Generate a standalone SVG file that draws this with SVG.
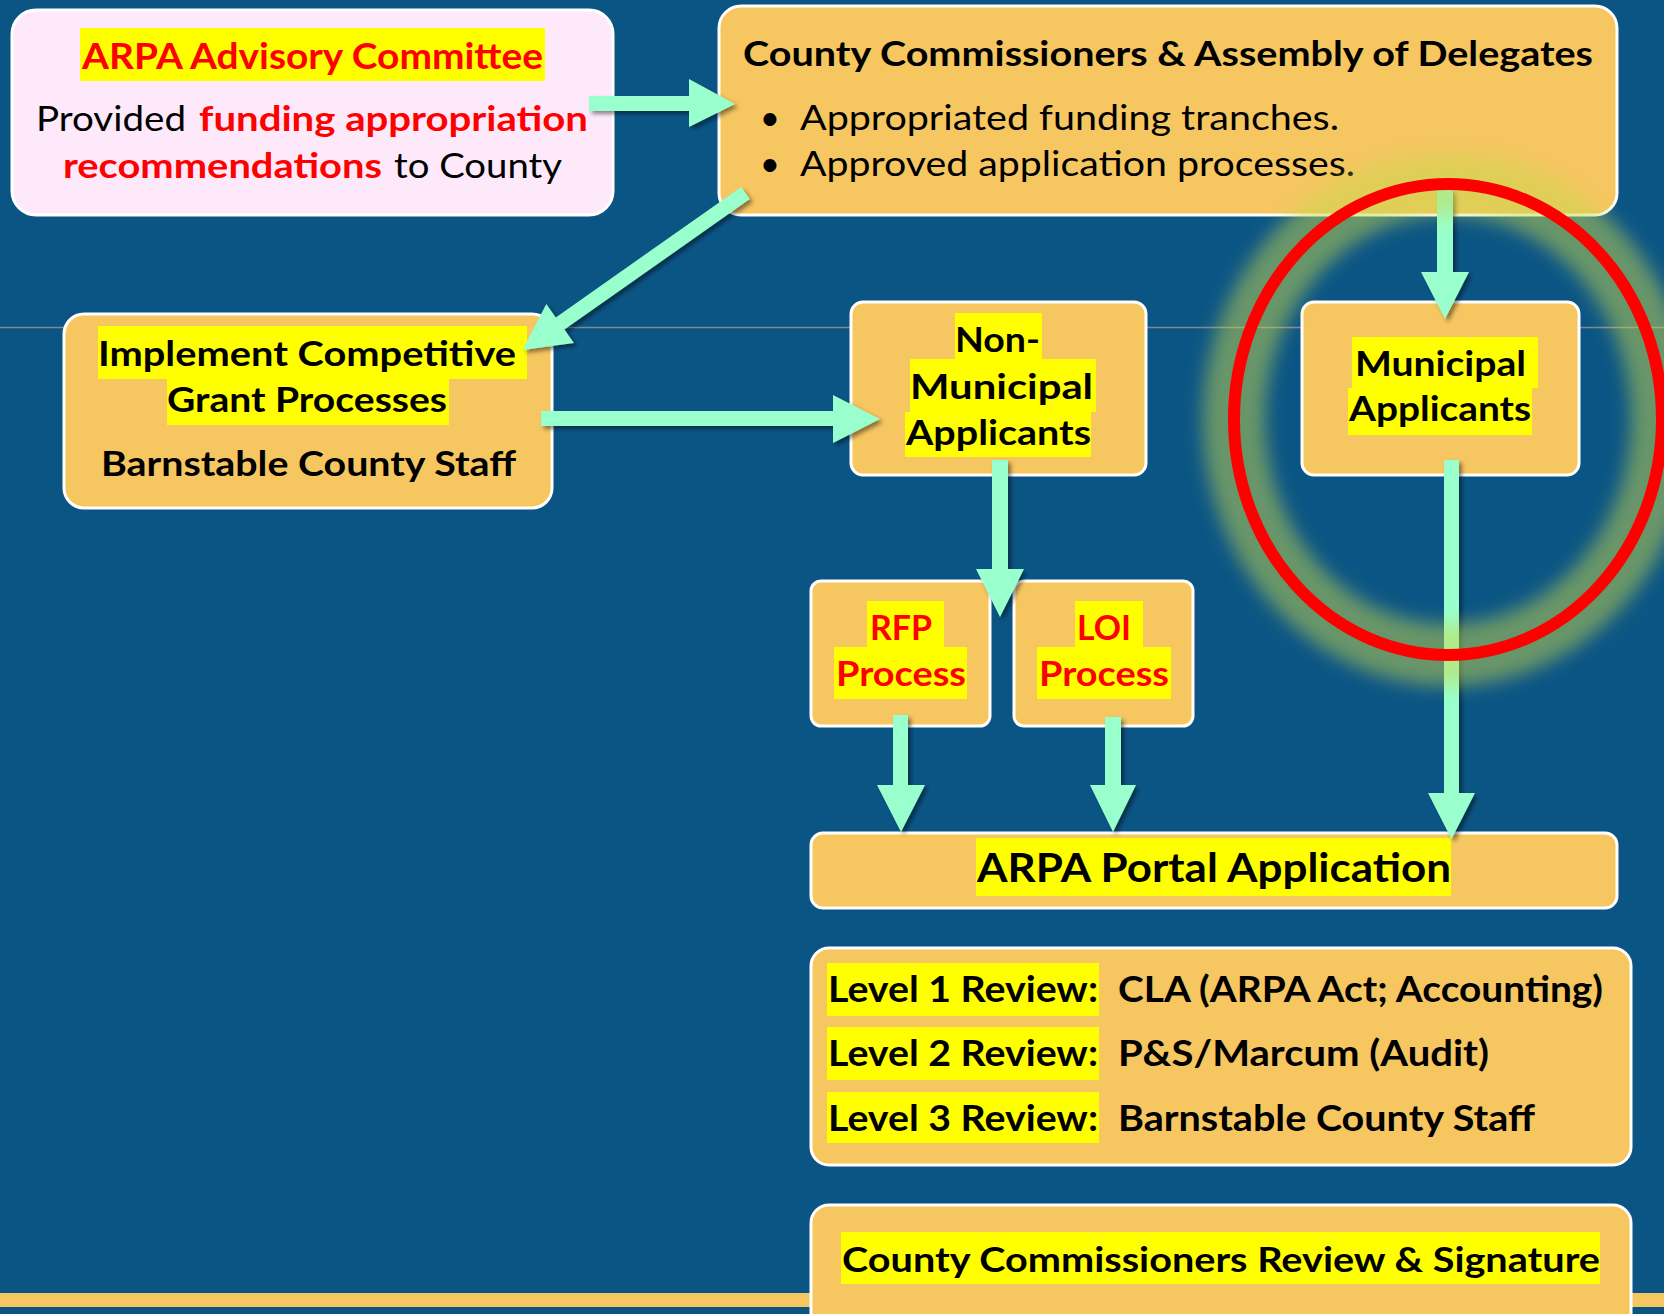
<svg xmlns="http://www.w3.org/2000/svg" width="1664" height="1314" viewBox="0 0 1664 1314">
<defs>
<style>
.t{font-family:Lato,"Liberation Sans",sans-serif;}
.b{font-weight:700}
.box{fill:#F6C661;stroke:#FFFFFF;stroke-width:3}
.pink{fill:#FDE9FA;stroke:#FFFFFF;stroke-width:3}
.hl{fill:#FFFF00}
.red{fill:#FF0000}
.blk{fill:#000000}
.arr{fill:#99FFCC;filter:url(#sh)}
</style>
<filter id="sh" x="-50%" y="-20%" width="200%" height="140%">
<feDropShadow dx="3" dy="3" stdDeviation="2" flood-color="#000000" flood-opacity="0.45"/>
</filter>
<filter id="glow" x="-25%" y="-25%" width="150%" height="150%">
<feGaussianBlur stdDeviation="9"/>
</filter>
</defs>
<rect x="0" y="0" width="1664" height="1314" fill="#0B5585"/>
<line x1="0" y1="327.5" x2="1664" y2="327.5" stroke="#7F8790" stroke-width="1.5"/>
<rect x="0" y="1293" width="1664" height="14" fill="#F6C661"/>

<g id="arpa-committee">
<rect class="pink" x="12" y="10" width="601" height="205" rx="24"/>
<rect class="hl" x="80" y="28" width="465" height="53"/>
<text class="t b red" x="82" y="69" font-size="36" textLength="461" lengthAdjust="spacingAndGlyphs">ARPA Advisory Committee</text>
<text class="t blk" x="36" y="131" font-size="35" textLength="150" lengthAdjust="spacingAndGlyphs">Provided</text>
<text class="t b red" x="199" y="131" font-size="35" textLength="389" lengthAdjust="spacingAndGlyphs">funding appropriation</text>
<text class="t b red" x="63" y="178" font-size="35" textLength="319" lengthAdjust="spacingAndGlyphs">recommendations</text>
<text class="t blk" x="394" y="178" font-size="35" textLength="168" lengthAdjust="spacingAndGlyphs">to County</text>
</g>

<g id="county-commissioners">
<rect class="box" x="719" y="6" width="898" height="209" rx="22"/>
<text class="t b blk" x="743" y="66" font-size="35" textLength="850" lengthAdjust="spacingAndGlyphs">County Commissioners &amp; Assembly of Delegates</text>
<text class="t blk" x="770" y="130" font-size="35" text-anchor="middle">•</text>
<text class="t blk" x="800" y="130" font-size="35" textLength="539" lengthAdjust="spacingAndGlyphs">Appropriated funding tranches.</text>
<text class="t blk" x="770" y="176" font-size="35" text-anchor="middle">•</text>
<text class="t blk" x="800" y="176" font-size="35" textLength="555" lengthAdjust="spacingAndGlyphs">Approved application processes.</text>
</g>

<g id="implement-grant">
<rect class="box" x="64" y="314" width="488" height="194" rx="20"/>
<rect class="hl" x="98" y="326" width="429" height="53"/>
<rect class="hl" x="167" y="379" width="282" height="46"/>
<text class="t b blk" x="98" y="366" font-size="34" textLength="418" lengthAdjust="spacingAndGlyphs">Implement Competitive</text>
<text class="t b blk" x="167" y="412" font-size="34" textLength="280" lengthAdjust="spacingAndGlyphs">Grant Processes</text>
<text class="t b blk" x="101" y="476" font-size="35" textLength="415" lengthAdjust="spacingAndGlyphs">Barnstable County Staff</text>
</g>

<g id="non-municipal">
<rect class="box" x="851" y="302" width="295" height="173" rx="12"/>
<rect class="hl" x="955" y="313" width="87" height="46"/>
<rect class="hl" x="910" y="359" width="186" height="53"/>
<rect class="hl" x="905" y="412" width="186" height="45"/>
<text class="t b blk" x="955" y="352" font-size="34.5" textLength="85" lengthAdjust="spacingAndGlyphs">Non-</text>
<text class="t b blk" x="910" y="399" font-size="34.5" textLength="183" lengthAdjust="spacingAndGlyphs">Municipal</text>
<text class="t b blk" x="906" y="445" font-size="34.5" textLength="185" lengthAdjust="spacingAndGlyphs">Applicants</text>
</g>

<g id="municipal">
<rect class="box" x="1302" y="302" width="277" height="173" rx="12"/>
<rect class="hl" x="1352" y="337" width="186" height="51"/>
<rect class="hl" x="1348" y="388" width="184" height="47"/>
<text class="t b blk" x="1355" y="376" font-size="35" textLength="171" lengthAdjust="spacingAndGlyphs">Municipal</text>
<text class="t b blk" x="1349" y="421" font-size="35" textLength="182" lengthAdjust="spacingAndGlyphs">Applicants</text>
</g>

<g id="rfp-process">
<rect class="box" x="811" y="581" width="179" height="145" rx="10"/>
<rect class="hl" x="867" y="601" width="77" height="46"/>
<rect class="hl" x="834" y="647" width="133" height="52"/>
<text class="t b red" x="870" y="640" font-size="33.5" textLength="62" lengthAdjust="spacingAndGlyphs">RFP</text>
<text class="t b red" x="836" y="686" font-size="33.5" textLength="130" lengthAdjust="spacingAndGlyphs">Process</text>
</g>

<g id="loi-process">
<rect class="box" x="1014" y="581" width="179" height="145" rx="10"/>
<rect class="hl" x="1075" y="601" width="68" height="46"/>
<rect class="hl" x="1037" y="647" width="134" height="52"/>
<text class="t b red" x="1077" y="640" font-size="33.5" textLength="54" lengthAdjust="spacingAndGlyphs">LOI</text>
<text class="t b red" x="1039" y="686" font-size="33.5" textLength="130" lengthAdjust="spacingAndGlyphs">Process</text>
</g>

<g id="portal-application">
<rect class="box" x="811" y="833" width="806" height="75" rx="12"/>
<rect class="hl" x="976" y="838" width="475" height="58"/>
<text class="t b blk" x="977" y="882" font-size="41" textLength="474" lengthAdjust="spacingAndGlyphs">ARPA Portal Application</text>
</g>

<g id="review-levels">
<rect class="box" x="811" y="948" width="820" height="217" rx="18"/>
<rect class="hl" x="827" y="963" width="272" height="53"/>
<rect class="hl" x="827" y="1027" width="272" height="53"/>
<rect class="hl" x="827" y="1092" width="272" height="51"/>
<text class="t b blk" x="828" y="1002" font-size="36" textLength="270" lengthAdjust="spacingAndGlyphs">Level 1 Review:</text>
<text class="t b blk" x="1118" y="1002" font-size="36" textLength="485" lengthAdjust="spacingAndGlyphs">CLA (ARPA Act; Accounting)</text>
<text class="t b blk" x="828" y="1066" font-size="36" textLength="270" lengthAdjust="spacingAndGlyphs">Level 2 Review:</text>
<text class="t b blk" x="1118" y="1066" font-size="36" textLength="371" lengthAdjust="spacingAndGlyphs">P&amp;S/Marcum (Audit)</text>
<text class="t b blk" x="828" y="1131" font-size="36" textLength="270" lengthAdjust="spacingAndGlyphs">Level 3 Review:</text>
<text class="t b blk" x="1118" y="1131" font-size="36" textLength="417" lengthAdjust="spacingAndGlyphs">Barnstable County Staff</text>
</g>

<g id="commissioners-signature">
<rect class="box" x="811" y="1205" width="820" height="130" rx="18"/>
<rect class="hl" x="841" y="1232" width="759" height="52"/>
<text class="t b blk" x="842" y="1272" font-size="34" textLength="758" lengthAdjust="spacingAndGlyphs">County Commissioners Review &amp; Signature</text>
</g>

<g id="connectors">
<polygon class="arr" points="589,96 689,96 689,79 735,104 689,127 689,111 589,111"/>
<polygon class="arr" points="741.2,186.9 555.8,317.4 546.3,303.9 522.5,350 573.9,343.1 564.4,329.6 749.8,199.1"/>
<polygon class="arr" points="541,411 833,411 833,395 880,419 833,443 833,426 541,426"/>
<polygon class="arr" points="1437,190 1453,190 1453,272 1469,272 1445,319 1421,272 1437,272"/>
<polygon class="arr" points="992,460 1008,460 1008,569 1024,569 1000,617 976,569 992,569"/>
<polygon class="arr" points="893,715 908,715 908,785 925,785 901,832 877,785 893,785"/>
<polygon class="arr" points="1105,717 1121,717 1121,785 1136,785 1113,832 1090,785 1105,785"/>
<polygon class="arr" points="1444,460 1459,460 1459,793 1475,793 1451.5,839 1428,793 1444,793"/>
</g>

<g id="highlight-ellipse">
<ellipse cx="1448" cy="419.5" rx="214" ry="235.5" fill="none" stroke="#C8D84A" stroke-opacity="0.5" stroke-width="62" filter="url(#glow)"/>
<ellipse cx="1448" cy="419.5" rx="214" ry="235.5" fill="none" stroke="#FF0000" stroke-width="12"/>
</g>
</svg>
